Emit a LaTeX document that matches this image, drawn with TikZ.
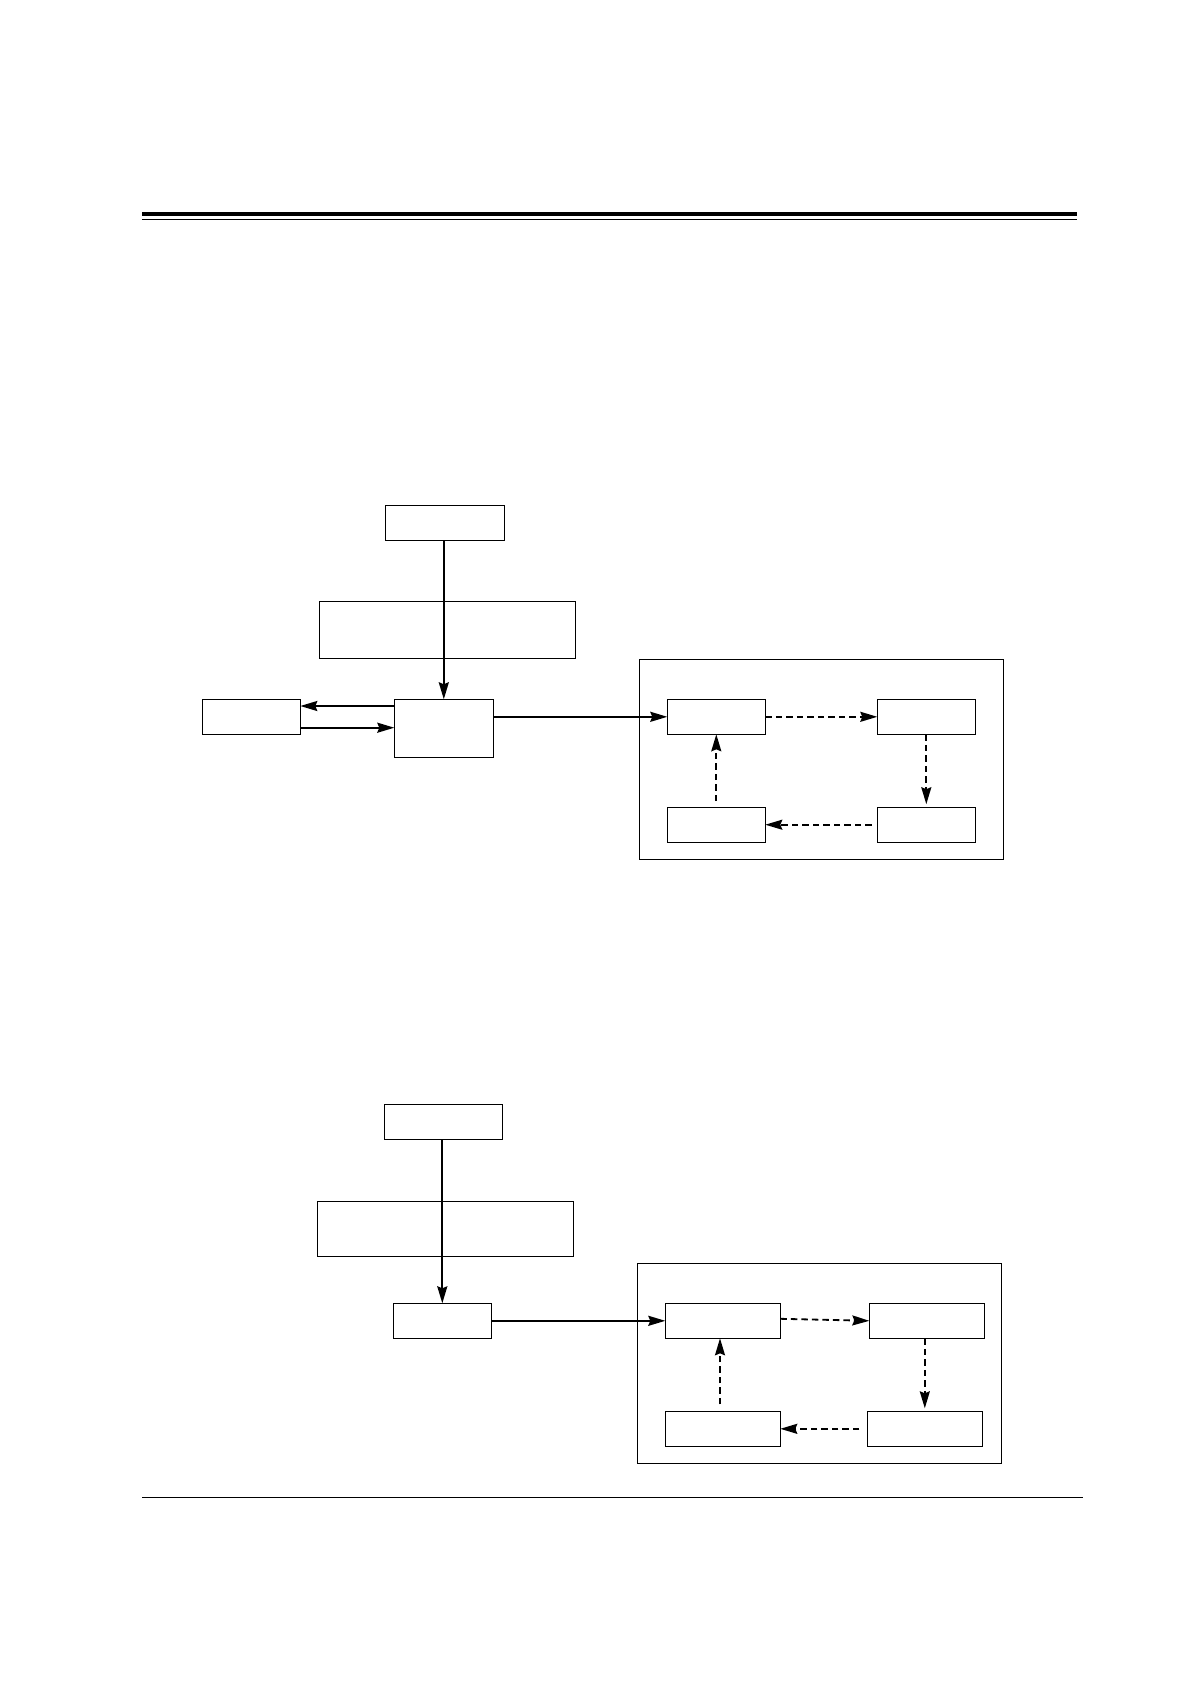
\documentclass[tikz,border=0pt]{standalone}
\usetikzlibrary{arrows.meta}
\begin{document}
\begin{tikzpicture}[x=1pt,y=-1pt,
  box/.style={draw=black,line width=1.2pt,inner sep=0pt,outer sep=0pt,fill=white},
  arr/.style={line width=2pt,-{Stealth[length=17pt,width=10pt,inset=2pt]}},
  darr/.style={line width=1.8pt,dash pattern=on 6.5pt off 4pt,-{Stealth[length=17pt,width=10pt,inset=2pt]}}]
\useasboundingbox[fill=white] (0,0) rectangle (1190,1684);
% rules
\draw[line width=4pt] (142,214) -- (1077,214);
\draw[line width=1.3pt] (142,219.5) -- (1077,219.5);
\draw[line width=1.3pt] (142,1497.2) -- (1083,1497.2);

% ---------- diagram 1 ----------
\node[box,minimum width=364pt,minimum height=200pt] (g1) at (821.3,759.3) {};
\node[box,minimum width=256.4pt,minimum height=57pt] (w1) at (447.5,629.8) {};
\node[box,minimum width=119pt,minimum height=35pt] (t1) at (444.8,522.8) {};
\node[box,minimum width=99pt,minimum height=58pt] (c1) at (443.8,728.3) {};
\node[box,minimum width=98pt,minimum height=35pt] (l1) at (251.3,716.8) {};
\node[box,minimum width=98pt,minimum height=35pt] (a1) at (716.3,716.8) {};
\node[box,minimum width=98pt,minimum height=35pt] (b1) at (926.3,716.8) {};
\node[box,minimum width=98pt,minimum height=35pt] (cc1) at (716.3,824.7) {};
\node[box,minimum width=98pt,minimum height=35pt] (d1) at (926.3,824.7) {};

\draw[arr] (t1.south -| c1.north) -- (c1.north);
\path ([yshift=10.8pt]l1.east) coordinate (p1);
\path ([yshift=-10.9pt]l1.east) coordinate (p2);
\draw[arr] (c1.west |- p1) -- (p1);
\draw[arr] (p2) -- (c1.west |- p2);
\draw[arr] (c1.east |- a1.west) -- (a1.west);
\draw[darr] (a1.east) -- (b1.west);
\draw[darr,shorten >=3pt] (b1.south) -- (d1.north);
\draw[darr,shorten <=5.6pt] (d1.west) -- (cc1.east);
\draw[darr,shorten <=6pt] (cc1.north) -- (a1.south);

% ---------- diagram 2 ----------
\node[box,minimum width=364pt,minimum height=200pt] (g2) at (819.3,1363.3) {};
\node[box,minimum width=256pt,minimum height=55pt] (w2) at (445.3,1228.8) {};
\node[box,minimum width=118pt,minimum height=35pt] (t2) at (443.3,1121.8) {};
\node[box,minimum width=98pt,minimum height=35pt] (c2) at (442.3,1320.8) {};
\node[box,minimum width=115pt,minimum height=35pt] (a2) at (722.8,1320.8) {};
\node[box,minimum width=115pt,minimum height=35pt] (b2) at (926.8,1320.8) {};
\node[box,minimum width=115pt,minimum height=35pt] (cc2) at (722.8,1428.8) {};
\node[box,minimum width=115pt,minimum height=35pt] (d2) at (924.8,1428.8) {};

\draw[arr] (t2.south -| c2.north) -- (c2.north);
\draw[arr] (c2.east) -- (a2.west);
\draw[darr] ([yshift=2pt]a2.east) -- (b2.west);
\draw[darr,shorten >=3pt] (d2.north |- b2.south) -- (d2.north);
\draw[darr,shorten <=8pt] (d2.west) -- (cc2.east);
\draw[darr,shorten <=7pt] ([xshift=-2.8pt]cc2.north) -- ([xshift=-2.8pt]a2.south);
\end{tikzpicture}
\end{document}
